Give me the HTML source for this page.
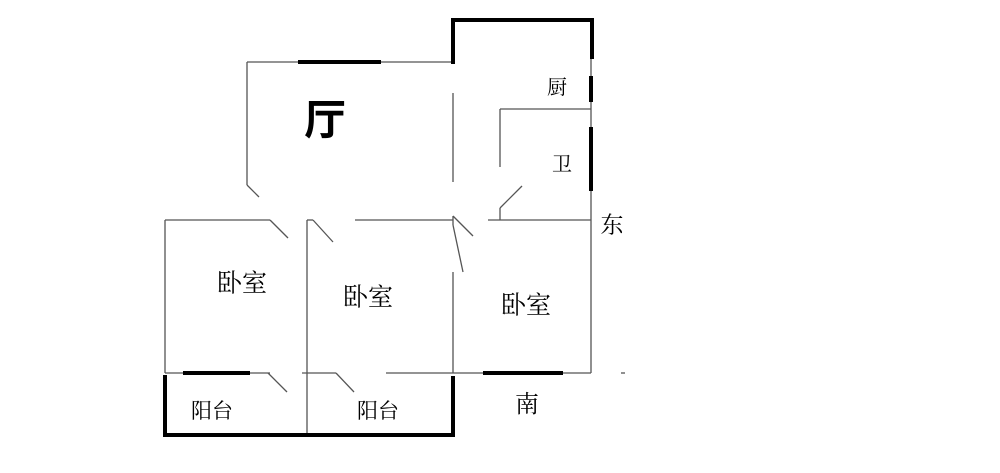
<!DOCTYPE html>
<html><head><meta charset="utf-8"><style>html,body{margin:0;padding:0;background:#fff}svg{display:block}</style></head>
<body>
<svg width="1000" height="473" viewBox="0 0 1000 473" xmlns="http://www.w3.org/2000/svg">
<g stroke="#555" stroke-width="1.3" fill="none">
<!-- hall -->
<line x1="247" y1="62" x2="453" y2="62"/>
<line x1="247" y1="62" x2="247" y2="185"/>
<line x1="247" y1="185" x2="259" y2="197"/>
<line x1="453" y1="93" x2="453" y2="182"/>
<!-- kitchen right -->
<line x1="591" y1="57" x2="591" y2="220"/>
<!-- bathroom -->
<line x1="500" y1="109" x2="591" y2="109"/>
<line x1="500" y1="109" x2="500" y2="167"/>
<line x1="500" y1="220" x2="500" y2="208"/>
<line x1="500" y1="208" x2="522" y2="186"/>
<!-- y=220 horizontal -->
<line x1="165" y1="220" x2="270" y2="220"/>
<line x1="270" y1="220" x2="288" y2="238"/>
<line x1="307" y1="220" x2="313" y2="220"/>
<line x1="313" y1="220" x2="333" y2="242"/>
<line x1="355" y1="220" x2="453" y2="220"/>
<line x1="453" y1="216" x2="473" y2="236"/>
<line x1="488" y1="220" x2="591" y2="220"/>
<!-- verticals -->
<line x1="165" y1="220" x2="165" y2="373"/>
<line x1="307" y1="220" x2="307" y2="435"/>
<line x1="453" y1="216" x2="453" y2="225"/>
<line x1="453" y1="225" x2="463" y2="272"/>
<line x1="453" y1="272" x2="453" y2="373"/>
<line x1="591" y1="220" x2="591" y2="373"/>
<!-- y=373 horizontal -->
<line x1="165" y1="373" x2="270" y2="373"/>
<line x1="268" y1="373" x2="287" y2="392"/>
<line x1="302" y1="373" x2="336" y2="373"/>
<line x1="336" y1="373" x2="354" y2="392"/>
<line x1="386" y1="373" x2="591" y2="373"/>
<line x1="621" y1="373" x2="625" y2="373"/>
</g>
<g stroke="#000" stroke-width="4" fill="none" stroke-linecap="square">
<polyline points="453,62 453,20 592,20 592,57"/>
<line x1="300" y1="62" x2="379" y2="62"/>
<line x1="591" y1="78" x2="591" y2="100"/>
<line x1="591" y1="129" x2="591" y2="189"/>
<line x1="185" y1="373" x2="248" y2="373"/>
<line x1="485" y1="373" x2="561" y2="373"/>
<polyline points="165,377 165,435 453,435 453,378"/>
</g>
<g font-family="'Liberation Serif','Noto Serif CJK SC',serif" fill="#000" text-anchor="middle" dominant-baseline="central">
<text x="325" y="120" font-size="42" font-weight="bold" font-family="'Liberation Sans','Noto Sans CJK SC',sans-serif">厅</text>
<text x="557" y="88" font-size="20">厨</text>
<text x="562" y="165" font-size="20">卫</text>
<text x="612" y="225" font-size="23">东</text>
<text x="242" y="284" font-size="25">卧室</text>
<text x="368" y="298" font-size="25">卧室</text>
<text x="526" y="306" font-size="25">卧室</text>
<text x="212" y="411" font-size="21">阳台</text>
<text x="378" y="411" font-size="21">阳台</text>
<text x="527" y="405" font-size="24">南</text>
</g>
</svg>
</body></html>
